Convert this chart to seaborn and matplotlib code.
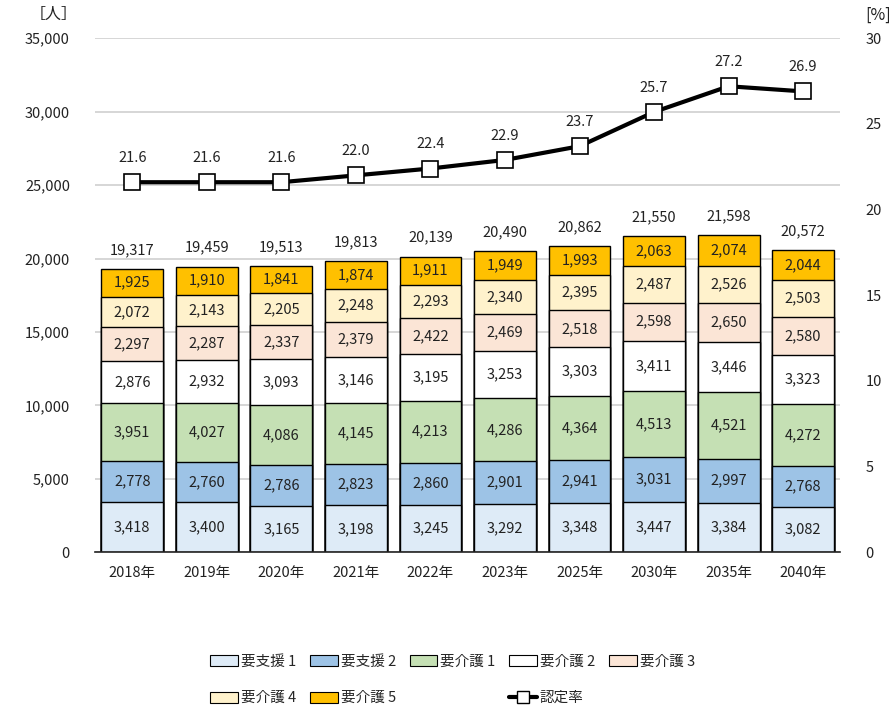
import numpy as np
import pandas as pd
import matplotlib
matplotlib.use('Agg')
import matplotlib.pyplot as plt
import seaborn as sns
from matplotlib.patches import Patch
from matplotlib.lines import Line2D

years = ['2018年', '2019年', '2020年', '2021年', '2022年', '2023年', '2025年', '2030年', '2035年', '2040年']
shien1 = [3418, 3400, 3165, 3198, 3245, 3292, 3348, 3447, 3384, 3082]
shien2 = [2778, 2760, 2786, 2823, 2860, 2901, 2941, 3031, 2997, 2768]
kaigo1 = [3951, 4027, 4086, 4145, 4213, 4286, 4364, 4513, 4521, 4272]
kaigo2 = [2876, 2932, 3093, 3146, 3195, 3253, 3303, 3411, 3446, 3323]
kaigo3 = [2297, 2287, 2337, 2379, 2422, 2469, 2518, 2598, 2650, 2580]
kaigo4 = [2072, 2143, 2205, 2248, 2293, 2340, 2395, 2487, 2526, 2503]
kaigo5 = [1925, 1910, 1841, 1874, 1911, 1949, 1993, 2063, 2074, 2044]
totals = [19317, 19459, 19513, 19813, 20139, 20490, 20862, 21550, 21598, 20572]
rate = [21.6, 21.6, 21.6, 22.0, 22.4, 22.9, 23.7, 25.7, 27.2, 26.9]

names = ['要支援 1', '要支援 2', '要介護 1', '要介護 2', '要介護 3', '要介護 4', '要介護 5']
colors = ['#DEEBF7', '#9DC3E6', '#C5E0B4', '#FFFFFF', '#FBE5D6', '#FFF2CC', '#FFC000']
layers = [shien1, shien2, kaigo1, kaigo2, kaigo3, kaigo4, kaigo5]

sns.set_theme(style='white')
plt.rcParams['font.family'] = ['Noto Sans CJK JP', 'DejaVu Sans']
plt.rcParams['font.size'] = 10.5

fig = plt.figure(figsize=(8.96, 7.09), dpi=100)
ax = fig.add_axes([0.106, 0.221, 0.832, 0.725])

cum = np.cumsum(np.array(layers), axis=0)
x = np.arange(len(years))

# draw cumulative bars from top down so each layer covers the ones above
for i in range(len(layers) - 1, -1, -1):
    df = pd.DataFrame({'year': years, 'val': cum[i]})
    sns.barplot(data=df, x='year', y='val', color=colors[i], saturation=1,
                edgecolor='black', linewidth=1.0, width=0.83, ax=ax, zorder=2)

for i, layer in enumerate(layers):
    mids = cum[i] - np.array(layer) / 2
    for xi, (m, v) in enumerate(zip(mids, layer)):
        ax.text(xi, m, f'{v:,}', ha='center', va='center', fontsize=10.5, color='#222222', zorder=5)

for xi, t in enumerate(totals):
    ax.text(xi, cum[-1][xi] + 800, f'{t:,}', ha='center', va='bottom', fontsize=10.5, color='#222222')

ax.set_ylim(0, 35000)
ax.set_xlim(-0.5, len(years) - 0.5)
ax.set_yticks(range(0, 35001, 5000))
ax.set_yticklabels([f'{v:,}' for v in range(0, 35001, 5000)])
ax.yaxis.grid(True, color='#D0D0D0', linewidth=1.2, zorder=0)
ax.set_axisbelow(True)
ax.set_xlabel('')
ax.set_ylabel('')
for s in ['top', 'right', 'left']:
    ax.spines[s].set_visible(False)
ax.spines['bottom'].set_color('#222222')
ax.spines['bottom'].set_linewidth(1.2)
ax.tick_params(axis='both', length=0, labelsize=10.5, colors='#222222')
ax.tick_params(axis='y', pad=18)
ax.tick_params(axis='x', pad=10)

ax2 = ax.twinx()
sns.lineplot(x=x, y=rate, ax=ax2, color='black', linewidth=3, marker='s', markersize=11,
             markerfacecolor='white', markeredgecolor='black', markeredgewidth=1.2, sort=False, zorder=6)
for xi, r in zip(x, rate):
    ax2.text(xi, r + 1.0, f'{r:.1f}', ha='center', va='bottom', fontsize=10.5, color='#222222')
ax2.set_ylim(0, 30)
ax2.set_yticks(range(0, 31, 5))
for s in ['top', 'right', 'left', 'bottom']:
    ax2.spines[s].set_visible(False)
ax2.tick_params(axis='y', length=0, labelsize=10.5, colors='#222222', pad=18)
ax2.grid(False)

fig.text(0.060, 0.979, '［人］', ha='center', va='center', fontsize=11.5, color='#222222')
fig.text(0.980, 0.979, '[%]', ha='center', va='center', fontsize=11.5, color='#222222')

handles = [Patch(facecolor=c, edgecolor='black', linewidth=0.8) for c in colors]
blank = Patch(facecolor='none', edgecolor='none')
line_h = Line2D([], [], color='black', linewidth=3, marker='s', markersize=8,
                markerfacecolor='white', markeredgecolor='black')
order_h = [handles[0], handles[5], handles[1], handles[6], handles[2], blank,
           handles[3], line_h, handles[4], blank]
order_l = [names[0], names[5], names[1], names[6], names[2], '',
           names[3], '認定率', names[4], '']
fig.legend(order_h, order_l, ncol=5, loc='center', bbox_to_anchor=(0.505, 0.041),
           frameon=False, fontsize=10.5, handlelength=1.9, handleheight=0.8,
           handletextpad=0.2, columnspacing=0.95, labelspacing=1.55)

fig.savefig('out.png', dpi=100)
